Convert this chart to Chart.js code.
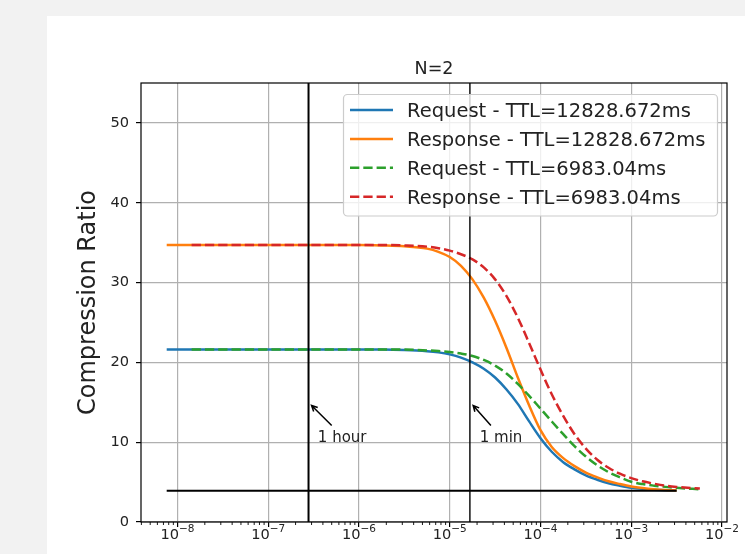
<!DOCTYPE html>
<html>
<head>
<meta charset="utf-8">
<script src="https://cdn.jsdelivr.net/npm/chart.js@4.4.0/dist/chart.umd.min.js"></script>
<style>
  html, body { margin: 0; padding: 0; background: #f2f2f2; }
  canvas { display: block; }
</style>
</head>
<body>
<canvas id="ratioChart" width="745" height="554"></canvas>
<script>
// request rate (1/ms) vs. compression ratio, two TTL settings
var ratesLong  = [7.6e-9, 1e-7, 1e-6, 1.78e-6, 3.16e-6, 5.62e-6, 7.5e-6, 1e-5, 1.33e-5, 1.78e-5, 2.37e-5, 3.16e-5, 4.22e-5, 5.62e-5,
                  7.5e-5, 1e-4, 1.33e-4, 1.78e-4, 2.37e-4, 3.16e-4, 4.22e-4, 5.62e-4, 7.5e-4, 1e-3, 1.33e-3, 1.78e-3, 2.37e-3, 3.16e-3];
var reqLong    = [21.6, 21.6, 21.6, 21.6, 21.55, 21.4, 21.25, 21.0, 20.6, 20.0, 19.2, 18.1, 16.6, 14.8,
                  12.6, 10.5, 8.8, 7.5, 6.6, 5.85, 5.3, 4.85, 4.55, 4.3, 4.15, 4.05, 3.98, 3.95];
var respLong   = [34.7, 34.7, 34.7, 34.65, 34.55, 34.25, 33.85, 33.2, 32.1, 30.4, 28.1, 25.2, 21.8, 18.1,
                  14.6, 11.5, 9.4, 8.0, 7.0, 6.2, 5.6, 5.1, 4.75, 4.45, 4.25, 4.1, 4.0, 3.95];

var ratesShort = [1.43e-8, 1e-7, 1e-6, 1.78e-6, 3.16e-6, 5.62e-6, 7.5e-6, 1e-5, 1.33e-5, 1.78e-5, 2.37e-5, 3.16e-5, 4.22e-5, 5.62e-5,
                  7.5e-5, 1e-4, 1.33e-4, 1.78e-4, 2.37e-4, 3.16e-4, 4.22e-4, 5.62e-4, 7.5e-4, 1e-3, 1.33e-3, 1.78e-3, 2.37e-3, 3.16e-3, 5.7e-3];
var reqShort   = [21.6, 21.6, 21.6, 21.6, 21.6, 21.5, 21.42, 21.3, 21.1, 20.8, 20.3, 19.6, 18.6, 17.3,
                  15.8, 14.2, 12.6, 11.0, 9.5, 8.2, 7.1, 6.25, 5.6, 5.05, 4.75, 4.55, 4.4, 4.28, 4.1];
var respShort  = [34.7, 34.7, 34.7, 34.7, 34.65, 34.5, 34.3, 34.0, 33.55, 32.9, 31.9, 30.4, 28.3, 25.6,
                  22.4, 19.1, 16.0, 13.3, 11.0, 9.2, 7.8, 6.8, 6.05, 5.5, 5.1, 4.8, 4.55, 4.4, 4.2];

var seriesLabels = ['Request - TTL=12828.672ms', 'Response - TTL=12828.672ms', 'Request - TTL=6983.04ms', 'Response - TTL=6983.04ms'];
var seriesColors = ['#1f77b4', '#ff7f0e', '#2ca02c', '#d62728'];

var floorRatio = 3.9;
var floorRates = [7.6e-9, 3.16e-3];
var markerRates = [2.778e-7, 1.667e-5];   // 1 hour, 1 min
var markerWidths = [2, 1.4];

// annotation text and arrows, in data units
var noteText  = ['1 hour', '1 min'];
var noteAt    = [[3.52e-7, 10], [2.14e-5, 10]];
var arrowTail = [[5.0e-7, 12.1], [2.84e-5, 12.1]];
var arrowHead = [[3.0e-7, 14.6], [1.81e-5, 14.6]];

var xTicks = [1e-8, 1e-7, 1e-6, 1e-5, 1e-4, 1e-3, 1e-2];
var xTickExp = ['\u22128', '\u22127', '\u22126', '\u22125', '\u22124', '\u22123', '\u22122'];
var yTicks = [0, 10, 20, 30, 40, 50];

var FONT = '"DejaVu Sans", sans-serif';
var DASH = [9.3, 4];

function pts(xs, ys) {
  return xs.map(function (x, i) { return { x: x, y: ys[i] }; });
}

function curve(i, xs, ys, dashed, order) {
  return {
    label: seriesLabels[i],
    data: pts(xs, ys),
    borderColor: seriesColors[i],
    borderWidth: 2.5,
    borderDash: dashed ? DASH : [],
    pointRadius: 0,
    showLine: true,
    fill: false,
    cubicInterpolationMode: 'monotone',
    order: order
  };
}

function blackLine(data, width) {
  return {
    label: '',
    data: data,
    borderColor: '#000',
    borderWidth: width,
    pointRadius: 0,
    showLine: true,
    fill: false,
    order: 0
  };
}

var datasets = [
  curve(0, ratesLong, reqLong, false, 4),
  curve(1, ratesLong, respLong, false, 3),
  curve(2, ratesShort, reqShort, true, 2),
  curve(3, ratesShort, respShort, true, 1),
  blackLine(pts(floorRates, [floorRatio, floorRatio]), 2)
];
markerRates.forEach(function (r, i) {
  datasets.push(blackLine([{ x: r, y: 0 }, { x: r, y: 55 }], markerWidths[i]));
});

function arrow(ctx, x0, y0, x1, y1) {
  var a = Math.atan2(y1 - y0, x1 - x0);
  var hl = 6.5, hw = 0.46;
  ctx.beginPath();
  ctx.moveTo(x0, y0);
  ctx.lineTo(x1, y1);
  ctx.moveTo(x1 - hl * Math.cos(a - hw), y1 - hl * Math.sin(a - hw));
  ctx.lineTo(x1, y1);
  ctx.lineTo(x1 - hl * Math.cos(a + hw), y1 - hl * Math.sin(a + hw));
  ctx.stroke();
}

var decor = {
  id: 'decor',
  beforeDraw: function (chart) {
    var ctx = chart.ctx;
    ctx.save();
    ctx.fillStyle = '#f2f2f2';
    ctx.fillRect(0, 0, chart.width, chart.height);
    ctx.fillStyle = '#ffffff';
    ctx.fillRect(47, 16, chart.width - 47, chart.height - 16);
    ctx.restore();
  },
  afterDatasetsDraw: function (chart) {
    var ctx = chart.ctx, a = chart.chartArea;
    var xs = chart.scales.x, ys = chart.scales.y;
    ctx.save();

    // frame
    ctx.strokeStyle = '#000';
    ctx.lineWidth = 1.2;
    ctx.strokeRect(a.left, a.top, a.right - a.left, a.bottom - a.top);

    // minor ticks on the log axis
    ctx.lineWidth = 0.9;
    ctx.beginPath();
    for (var n = -9; n <= -2; n++) {
      for (var k = 2; k <= 9; k++) {
        var v = k * Math.pow(10, n);
        if (v < xs.min || v > xs.max) continue;
        var px = xs.getPixelForValue(v);
        ctx.moveTo(px, a.bottom);
        ctx.lineTo(px, a.bottom + 3);
      }
    }
    ctx.stroke();

    // x tick labels as 10 with a raised exponent
    ctx.fillStyle = '#222';
    ctx.textBaseline = 'alphabetic';
    ctx.textAlign = 'left';
    xTicks.forEach(function (t, i) {
      var x = xs.getPixelForValue(t);
      ctx.font = '14.6px ' + FONT;
      var wb = ctx.measureText('10').width;
      ctx.font = '10.5px ' + FONT;
      var we = ctx.measureText(xTickExp[i]).width;
      var left = x - (wb + we) / 2;
      ctx.font = '14.6px ' + FONT;
      ctx.fillText('10', left, a.bottom + 16.6);
      ctx.font = '10.5px ' + FONT;
      ctx.fillText(xTickExp[i], left + wb, a.bottom + 9.8);
    });

    // annotations
    ctx.strokeStyle = '#000';
    ctx.lineWidth = 1.5;
    ctx.font = '15px ' + FONT;
    noteText.forEach(function (t, i) {
      ctx.fillText(t, xs.getPixelForValue(noteAt[i][0]), ys.getPixelForValue(noteAt[i][1]));
      arrow(ctx,
        xs.getPixelForValue(arrowTail[i][0]), ys.getPixelForValue(arrowTail[i][1]),
        xs.getPixelForValue(arrowHead[i][0]), ys.getPixelForValue(arrowHead[i][1]));
    });

    // title and axis label
    ctx.textAlign = 'center';
    ctx.font = '17.5px ' + FONT;
    ctx.fillText('N=2', (a.left + a.right) / 2, a.top - 9.5);
    ctx.save();
    ctx.translate(95, (a.top + a.bottom) / 2);
    ctx.rotate(-Math.PI / 2);
    ctx.font = '24px ' + FONT;
    ctx.fillText('Compression Ratio', 0, 0);
    ctx.restore();

    ctx.restore();
  },
  afterDraw: function (chart) {
    // legend box in the upper right
    var ctx = chart.ctx;
    var bx = 343.5, by = 94.5, bw = 374, bh = 121.5;
    ctx.save();
    ctx.beginPath();
    ctx.roundRect(bx, by, bw, bh, 4);
    ctx.fillStyle = 'rgba(255,255,255,0.8)';
    ctx.fill();
    ctx.strokeStyle = '#cccccc';
    ctx.lineWidth = 1.2;
    ctx.stroke();

    ctx.font = '19.5px ' + FONT;
    ctx.textAlign = 'left';
    ctx.textBaseline = 'alphabetic';
    ctx.fillStyle = '#222';
    seriesLabels.forEach(function (label, i) {
      var cy = 110 + i * 28.9;
      ctx.beginPath();
      ctx.setLineDash(i >= 2 ? DASH : []);
      ctx.strokeStyle = seriesColors[i];
      ctx.lineWidth = 2.5;
      ctx.moveTo(350, cy);
      ctx.lineTo(393, cy);
      ctx.stroke();
      ctx.setLineDash([]);
      ctx.fillText(label, 407, cy + 7);
    });
    ctx.restore();
  }
};

var gridStyle = {
  color: '#b0b0b0',
  lineWidth: 1.2,
  tickColor: '#000',
  tickLength: 5,
  tickWidth: 1.2
};

new Chart(document.getElementById('ratioChart'), {
  type: 'scatter',
  data: { datasets: datasets },
  options: {
    responsive: false,
    animation: false,
    devicePixelRatio: 1,
    layout: { padding: { left: 0, top: 83, right: 18, bottom: 0 } },
    plugins: {
      legend: { display: false },
      tooltip: { enabled: false },
      title: { display: false }
    },
    scales: {
      x: {
        type: 'logarithmic',
        min: 3.96e-9,
        max: 1.135e-2,
        afterBuildTicks: function (s) { s.ticks = xTicks.map(function (v) { return { value: v }; }); },
        afterFit: function (s) { s.height = 32; s.paddingLeft = 0; s.paddingRight = 0; },
        ticks: { display: false },
        grid: gridStyle,
        border: { display: false }
      },
      y: {
        min: 0,
        max: 55,
        afterBuildTicks: function (s) { s.ticks = yTicks.map(function (v) { return { value: v }; }); },
        afterFit: function (s) { s.width = 141; },
        ticks: { font: { family: FONT, size: 14.6 }, color: '#222', padding: 7 },
        grid: gridStyle,
        border: { display: false }
      }
    }
  },
  plugins: [decor]
});
</script>
</body>
</html>
